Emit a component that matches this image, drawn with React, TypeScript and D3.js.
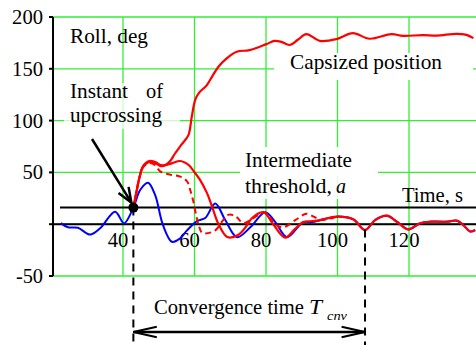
import React from 'react';
import * as d3 from 'd3';

// ---- data ----
const yTickLabels = [200, 150, 100, 50, -50];
const yGridValues = [200, 150, 100, 50, 0, -50];
const xTickLabels = [40, 60, 80, 100, 120];
const thresholdA = 16;
const tUpcross = 42.9;
const tConverge = 107.7;

// shared tail (red solid over blue, dashed joins)
const tailT = [95.2, 99.8, 104.4, 107.7, 110.5, 113.8, 116.6, 119.8, 123.1, 125.9, 130.6, 133.4, 135.2, 137.1, 138.5];
const tailV = [4, 7.3, 4.7, -5.6, 4, 8.2, 2.4, -5, 0.9, 2.4, 2.4, 3.4, -0.8, -7, -5.6];

const blueT = [22.6, 24.6, 27.4, 30.8, 33.6, 37.8, 40.3, 42.9, 44.8, 47, 49, 51.2, 53.7, 56, 57.9, 60.7, 63, 65.8, 68.6, 71.9, 75.6, 79.8, 82.6, 85.9, 90.4, 93];
const blueV = [1, -3, -3.5, -10, -4, 12, 1, 16, 33, 40, 28, -1, -17, -13.5, -6, 3, 6, 20, 4, -12.5, -3, 11.6, 2, -12.5, 2, 2];

const redT = [42.9, 43.7, 44.6, 45.6, 47.3, 49, 50.6, 51.8, 53.8, 56, 58.4, 59.6, 61.5, 63.5, 64.4, 65.5, 66.6, 69.2, 72.2, 74.7, 76.1, 79.3, 82, 85.4, 88, 90.4, 93];
const redV = [16, 30, 45, 55, 60, 59, 56, 57, 59, 61, 57, 52, 43, 30, 22, 11, 1, -12.4, -10.4, -1, 6, 11.6, 0, -13, -5, 2, 3];

const capT = [42.9, 43.7, 44.6, 45.6, 47.3, 49, 50.6, 51.8, 53.2, 54.5, 56.4, 58.3, 59.2, 60.2, 61.3, 63.4, 65, 66.7, 69, 71.8, 75.4, 80.1, 82.4, 84.3, 86.6, 88.9, 91.3, 95, 99.7, 104.3, 109, 115.1, 118.3, 123.9, 127.7, 133.3, 136.1, 138];
const capV = [16, 30, 45, 56, 61, 60, 57, 57, 61, 68, 77, 86, 103, 120, 127, 134, 143, 152, 160, 166.5, 168, 173.8, 177, 176, 173, 178, 183.5, 177, 178.6, 184.4, 179, 183.5, 181.8, 182.5, 182, 183.8, 182.8, 179.6];

const dashT = [42.9, 43.7, 44.6, 45.6, 47.3, 49, 50.4, 53, 56, 58, 58.8, 59.6, 60.5, 61.1, 62, 63, 65.8, 68, 69.4, 71.4, 73.6, 75.6, 79.8, 82.5, 84.8, 88.2, 91.3, 93.5];
const dashV = [16, 30, 45, 55, 59, 57, 51, 48, 46, 41, 33, 23, 8, 0, -8, -9, -6, 4, 9, 8, 1, 4, 11, 0, -3, 4, 10, 7];

const GRID = '#33ee33';
const SERIF = '"Liberation Serif", "Times New Roman", Tinos, serif';

function zip(t: number[], v: number[]): [number, number][] {
  return t.map((tt, i) => [tt, v[i]] as [number, number]);
}

function head(tipX: number, tipY: number, fromX: number, fromY: number, len: number, ang: number) {
  const a = Math.atan2(fromY - tipY, fromX - tipX);
  const p1 = [tipX + len * Math.cos(a + ang), tipY + len * Math.sin(a + ang)];
  const p2 = [tipX + len * Math.cos(a - ang), tipY + len * Math.sin(a - ang)];
  return `M${p1[0]},${p1[1]}L${tipX},${tipY}L${p2[0]},${p2[1]}`;
}

function tickWidth(v: number) {
  const s = String(v);
  return s.replace('-', '').length * 10.3 + (s.startsWith('-') ? 6.5 : 0);
}

function Label(props: { x: number; y: number; size?: number; anchor?: string; len?: number; italic?: boolean; dy?: string; children: React.ReactNode }) {
  return (
    <text
      x={props.x}
      y={props.y}
      dy={props.dy}
      textAnchor={props.anchor || 'start'}
      fill="#000"
      fontFamily="Liberation Serif"
      fontSize={props.size || 21}
      fontStyle={props.italic ? 'italic' : 'normal'}
      textLength={props.len}
      lengthAdjust={props.len ? 'spacingAndGlyphs' : undefined}
      style={{ fontFamily: SERIF }}
    >
      {props.children}
    </text>
  );
}

export default function App() {
  const W = 476, H = 345;
  const x = d3.scaleLinear().domain([40, 120]).range([123, 409]);
  const y = d3.scaleLinear().domain([-50, 200]).range([276, 17]);
  const xAxisPx = 53;
  const xRightPx = W;
  const line = d3.line<[number, number]>()
    .x(d => x(d[0]))
    .y(d => y(d[1]))
    .curve(d3.curveCatmullRom.alpha(0.5));

  const blue = zip(blueT, blueV).concat(zip(tailT, tailV));
  const red = zip(redT, redV).concat(zip(tailT, tailV));
  const cap = zip(capT, capV);
  const dash = zip(dashT, dashV).concat(zip(tailT.slice(0, 2), tailV.slice(0, 2)));

  const dotX = x(tUpcross), dotY = y(thresholdA);
  const cnvX = x(tConverge);
  const arrowY = 332;
  const tipX = dotX - 2, tipY = dotY - 5;
  const tailX = 92, tailY = 139;

  return (
    <svg width={W} height={H} style={{ position: 'absolute', left: 0, top: 0, background: '#fff' }}>
      {/* grid */}
      {yGridValues.map(v => (
        <line key={'h' + v} x1={xAxisPx} x2={xRightPx} y1={y(v)} y2={y(v)} stroke={GRID} strokeWidth={1.3} />
      ))}
      {xTickLabels.map(t => (
        <line key={'v' + t} x1={x(t)} x2={x(t)} y1={y(200)} y2={y(-50)} stroke={GRID} strokeWidth={1.3} />
      ))}
      {/* text backgrounds */}
      <rect x={64} y={83} width={116} height={46} fill="#fff" opacity={0.75} />
      <rect x={274} y={53} width={199} height={27} fill="#fff" />
      <rect x={240} y={147} width={138} height={29} fill="#fff" />
      <rect x={240} y={176} width={110} height={23} fill="#fff" opacity={0.85} />

      {/* y axis */}
      <line x1={xAxisPx} x2={xAxisPx} y1={y(200)} y2={y(-50)} stroke="#000" strokeWidth={2} />
      {yGridValues.map(v => (
        <line key={'yt' + v} x1={xAxisPx - 4} x2={xAxisPx} y1={y(v)} y2={y(v)} stroke="#000" strokeWidth={2} />
      ))}
      {yTickLabels.map(v => (
        <Label key={'yl' + v} x={43} y={y(v)} dy="0.35em" anchor="end" size={20} len={tickWidth(v)}>{v}</Label>
      ))}
      {/* time axis and threshold */}
      <line x1={xAxisPx} x2={xRightPx} y1={y(0)} y2={y(0)} stroke="#000" strokeWidth={2} />
      <line x1={60} x2={xRightPx} y1={y(thresholdA)} y2={y(thresholdA)} stroke="#000" strokeWidth={2} />
      {xTickLabels.map(t => (
        <Label key={'xl' + t} x={x(t) - 5} y={247} anchor="middle" size={20} len={tickWidth(t)}>{t}</Label>
      ))}

      {/* series */}
      <path d={line(blue) || ''} fill="none" stroke="#0000ff" strokeWidth={2} />
      <path d={line(dash) || ''} fill="none" stroke="#ff0000" strokeWidth={2} strokeDasharray="6,4" />
      <path d={line(cap) || ''} fill="none" stroke="#ff0000" strokeWidth={2.2} />
      <path d={line(red) || ''} fill="none" stroke="#ff0000" strokeWidth={2.2} />

      {/* upcrossing marker */}
      <line x1={dotX} x2={dotX} y1={dotY} y2={H} stroke="#000" strokeWidth={2} strokeDasharray="8,6" />
      <line x1={cnvX} x2={cnvX} y1={y(-5)} y2={H} stroke="#000" strokeWidth={2} strokeDasharray="8,6" />
      <circle cx={dotX} cy={dotY} r={5} fill="#000" />
      <line x1={tailX} y1={tailY} x2={tipX} y2={tipY} stroke="#000" strokeWidth={2.5} />
      <path d={head(tipX, tipY, tailX, tailY, 16, 0.38)} fill="none" stroke="#000" strokeWidth={2.5} />

      {/* convergence arrow */}
      <line x1={dotX} x2={cnvX} y1={arrowY} y2={arrowY} stroke="#000" strokeWidth={2.5} />
      <path d={head(dotX, arrowY, cnvX, arrowY, 24, 0.22)} fill="none" stroke="#000" strokeWidth={2} />
      <path d={head(cnvX, arrowY, dotX, arrowY, 24, 0.22)} fill="none" stroke="#000" strokeWidth={2} />

      {/* labels */}
      <Label x={70} y={43} len={78}>Roll, deg</Label>
      <Label x={70} y={98} len={58}>Instant</Label>
      <Label x={163} y={98} anchor="end" len={17}>of</Label>
      <Label x={70} y={122} len={92}>upcrossing</Label>
      <Label x={290} y={69} len={152}>Capsized position</Label>
      <Label x={245} y={167} len={107}>Intermediate</Label>
      <Label x={245} y={193} len={87}>threshold,</Label>
      <Label x={336} y={193} italic len={10}>a</Label>
      <Label x={402} y={202} len={61}>Time, s</Label>
      <Label x={154} y={314} len={150}>Convergence time</Label>
      <Label x={309} y={314} italic len={13}>T</Label>
      <Label x={327} y={320} italic size={13} len={20}>cnv</Label>
    </svg>
  );
}
